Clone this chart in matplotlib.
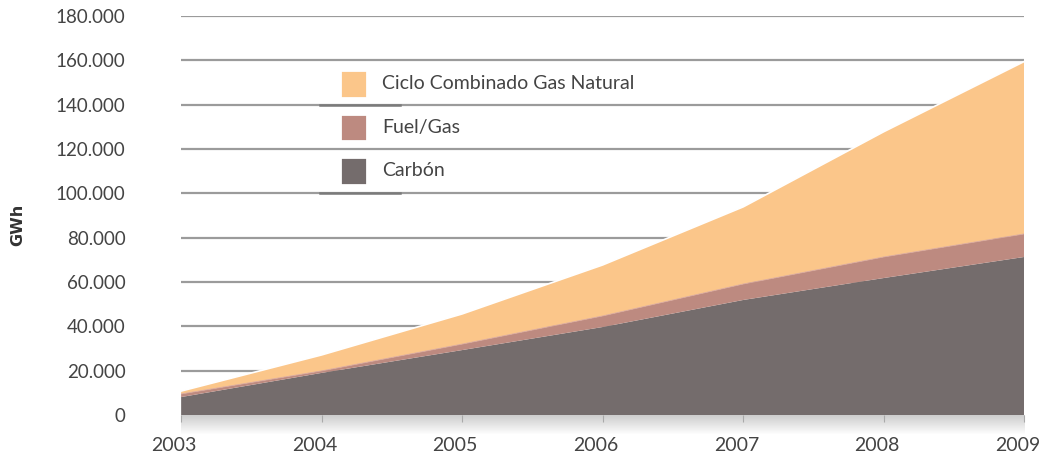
import matplotlib.pyplot as plt
import matplotlib.transforms as mtransforms
import numpy as np
from matplotlib.patches import Rectangle
from matplotlib.ticker import FuncFormatter

plt.rcParams['font.family'] = ['Lato', 'DejaVu Sans']

# data (GWh)
years = [2003, 2004, 2005, 2006, 2007, 2008, 2009]
carbon = [8100, 19000, 29300, 39700, 51900, 61800, 71300]
fuel_gas = [1400, 900, 2700, 5000, 7200, 9500, 10400]
ciclo = [1300, 7200, 13600, 23000, 34800, 56500, 77800]

labels = ['Ciclo Combinado Gas Natural', 'Fuel/Gas', 'Carbón']
colors = ['#FBC68A', '#BD8A80', '#746C6C']
txt_col = '#444444'

fig = plt.figure(figsize=(10.41, 4.62), dpi=100)
ax = fig.add_axes([0.174, 0.1017, 0.81, 0.8637])

yt = np.arange(0, 180001, 20000)
ax.set_yticks(yt)
for y in yt[1:]:
    ax.axhline(y, color='#9b9b9b', lw=1.6, zorder=0)

ax.stackplot(years, carbon, fuel_gas, ciclo,
             colors=[colors[2], colors[1], colors[0]], zorder=2,
             edgecolor='none')
tot = np.array(carbon) + np.array(fuel_gas) + np.array(ciclo)
ax.plot(years, tot, color='white', lw=1.2, zorder=3)
ax.plot(years, np.array(carbon) + np.array(fuel_gas), color='#d9a89c', lw=0.6, zorder=3)

# soft shadow below the baseline
grad = np.linspace(0.3, 0, 30).reshape(-1, 1)
ax.imshow(np.dstack([np.full((30, 1, 3), 0.35), grad]), extent=[years[0], years[-1], -9000, 0],
          aspect='auto', zorder=1, clip_on=False)
ax.set_ylim(0, 180000)
ax.set_xlim(years[0], years[-1])

ax.yaxis.set_major_formatter(FuncFormatter(lambda v, p: f'{int(v):,}'.replace(',', '.')))
ax.set_xticks(years)
ax.tick_params(axis='y', length=0, pad=40, labelsize=13.5, labelcolor=txt_col)
ax.tick_params(axis='x', length=5, width=0.8, color='#aaaaaa', pad=11, labelsize=14,
               labelcolor=txt_col)
shift = mtransforms.ScaledTranslation(-7 / 100, 0, fig.dpi_scale_trans)
for lab in ax.get_xticklabels():
    lab.set_transform(lab.get_transform() + shift)
for s in ax.spines.values():
    s.set_visible(False)
fig.text(0.017, 0.513, 'GWh', rotation=90, fontsize=11.5, fontweight='bold',
         color='#333333', family='DejaVu Sans', ha='center', va='center')

# legend drawn by hand
for i, (lab, c) in enumerate(zip(labels, colors)):
    yc = 0.8296 - i * 0.109
    ax.add_patch(Rectangle((0.188, yc - 0.034), 0.032, 0.068, transform=ax.transAxes,
                           facecolor=c, edgecolor='white', lw=2, zorder=5))
    ax.text(0.238, yc, lab, transform=ax.transAxes, fontsize=14, color=txt_col,
            va='center', ha='left', zorder=5)
for y in [140000, 100000]:
    ax.plot([0.165, 0.259], [y / 180000] * 2, transform=ax.transAxes,
            color='#7a7a7a', lw=1.8, zorder=4)

fig.savefig('out.png', dpi=100)
